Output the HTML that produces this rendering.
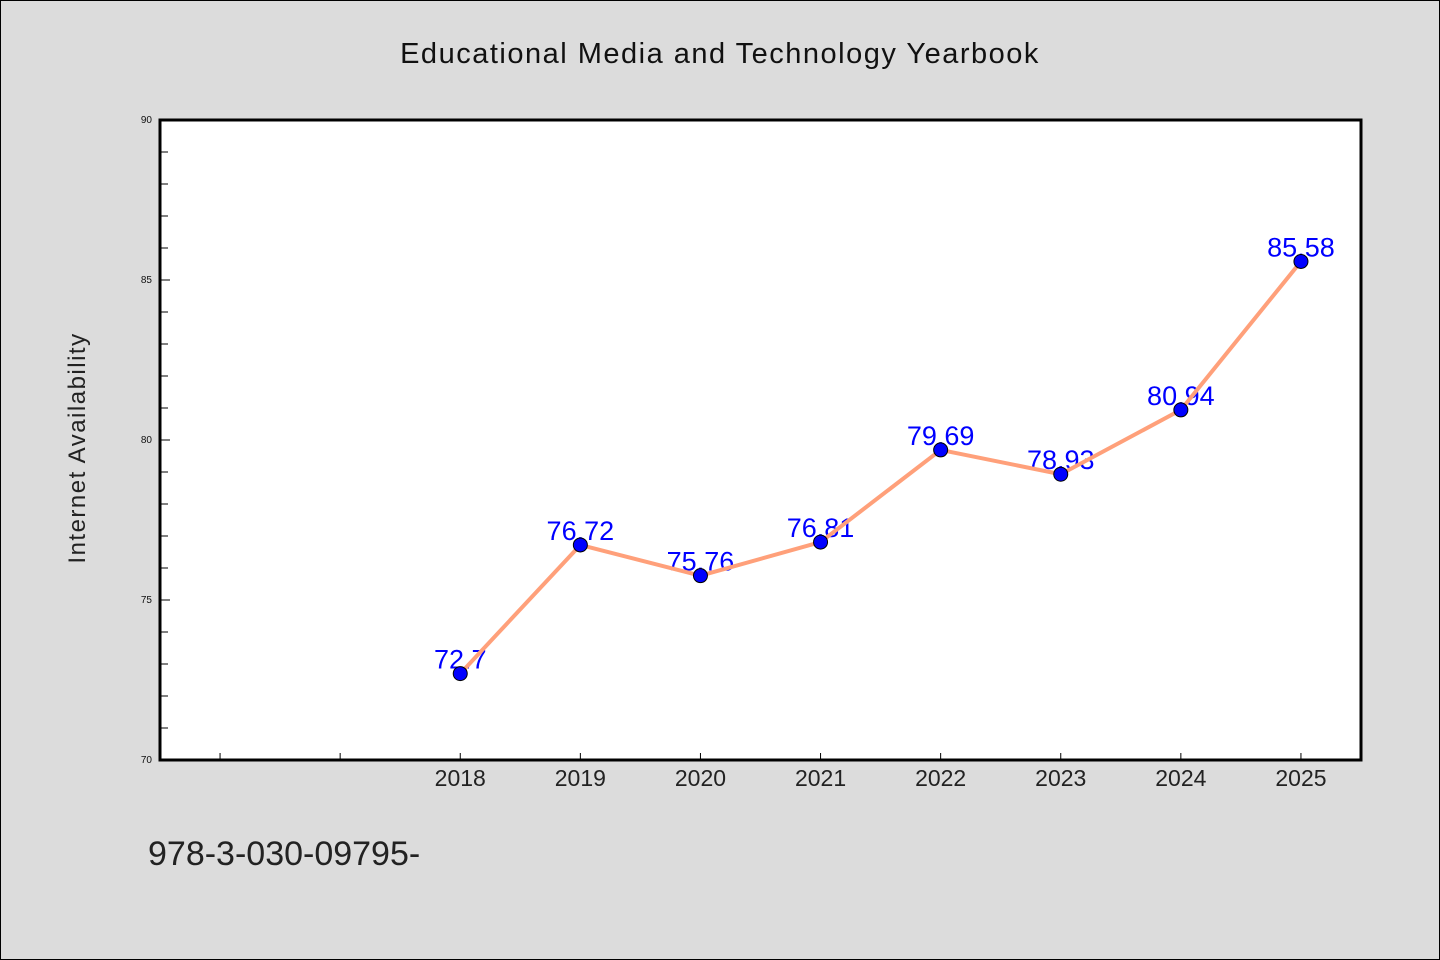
<!DOCTYPE html>
<html><head><meta charset="utf-8"><style>
html,body{margin:0;padding:0;background:#dcdcdc;}
svg{display:block;font-family:"WenQuanYi Zen Hei","Liberation Sans",sans-serif;}
</style></head><body>
<svg id="chart" width="1440" height="960" viewBox="0 0 1440 960" xmlns="http://www.w3.org/2000/svg">
<rect x="0.5" y="0.5" width="1439" height="959" fill="#dcdcdc" stroke="#000" stroke-width="1"/>
<text x="720" y="63" font-size="29" text-anchor="middle" fill="#111" letter-spacing="1.5">Educational Media and Technology Yearbook</text>
<rect x="160" y="120" width="1201" height="640" fill="#fff"/>
<g id="axes"></g>
<g id="labels"></g>
<g id="series"></g>
<rect x="160" y="120" width="1201" height="640" fill="none" stroke="#000" stroke-width="3"/>
<text transform="translate(85,448) rotate(-90)" font-size="24" text-anchor="middle" fill="#222" letter-spacing="1.5">Internet Availability</text>
<text x="148" y="865" font-size="34" fill="#222">978-3-030-09795-</text>
</svg>
<script>
const categories = [2018, 2019, 2020, 2021, 2022, 2023, 2024, 2025];
const values = [72.7, 76.72, 75.76, 76.81, 79.69, 78.93, 80.94, 85.58];
const valueLabels = ["72.7", "76.72", "75.76", "76.81", "79.69", "78.93", "80.94", "85.58"];
const yTicks = [70, 75, 80, 85, 90];
const xTickYears = [2016, 2017, 2018, 2019, 2020, 2021, 2022, 2023, 2024, 2025];

const NS = "http://www.w3.org/2000/svg";
const X0 = 160, X1 = 1361, Y0 = 760, Y1 = 120;
const xMin = 2015.5, xMax = 2025.5, yMin = 70, yMax = 90;
function xs(v){ return X0 + (v - xMin) / (xMax - xMin) * (X1 - X0); }
function ys(v){ return Y0 - (v - yMin) / (yMax - yMin) * (Y0 - Y1); }
function mk(tag, attrs, parent){ const e = document.createElementNS(NS, tag); for (const k in attrs) e.setAttribute(k, attrs[k]); parent.appendChild(e); return e; }

const axes = document.getElementById('axes');
for (let v = yMin; v <= yMax; v += 1) {
  const major = (v % 5 === 0);
  const t = mk('line', {x1: X0, x2: X0 + (major ? 10 : 8), y1: ys(v), y2: ys(v), stroke: '#000', 'stroke-width': 1}, axes);
  
  
}
yTicks.forEach(v => {
  const t = mk('text', {x: X0 - 8, y: ys(v) + 3, 'font-size': 10, 'text-anchor': 'end', fill: '#111'}, axes);
  t.textContent = v;
  
  
});
xTickYears.forEach(y => {
  const t = mk('line', {x1: xs(y), x2: xs(y), y1: Y0, y2: Y0 - 7, stroke: '#000', 'stroke-width': 1}, axes);
  
  
});
categories.forEach(c => {
  const t = mk('text', {x: xs(c), y: Y0 + 26, 'font-size': 23, 'text-anchor': 'middle', fill: '#222'}, axes);
  t.textContent = c;
  
  
});

const labels = document.getElementById('labels');
categories.forEach((c, i) => {
  const t = mk('text', {x: xs(c), y: ys(values[i]) - 5, 'font-size': 27, 'text-anchor': 'middle', fill: '#0000ff'}, labels);
  t.textContent = valueLabels[i];
  
  
});

const series = document.getElementById('series');
const pts = categories.map((c, i) => xs(c) + ',' + ys(values[i])).join(' ');
const line = mk('polyline', {points: pts, fill: 'none', stroke: '#ffa07a', 'stroke-width': 4, 'stroke-linejoin': 'round'}, series);


categories.forEach((c, i) => {
  const p = mk('circle', {cx: xs(c), cy: ys(values[i]), r: 7, fill: '#0000ff', stroke: '#000', 'stroke-width': 1}, series);
  
  
});
</script>
</body></html>
